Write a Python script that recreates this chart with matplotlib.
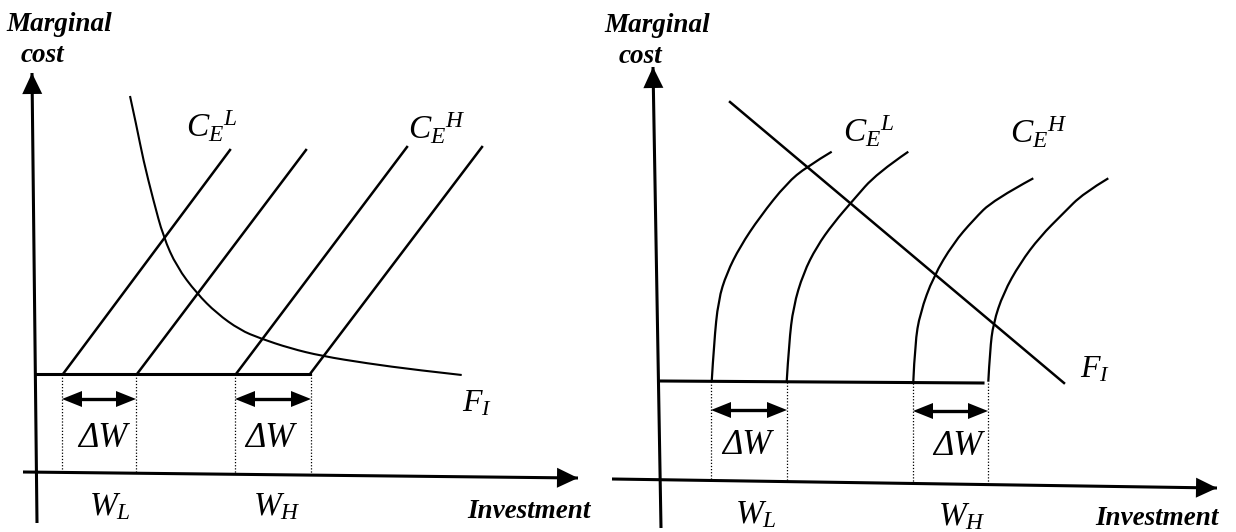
import matplotlib
matplotlib.use('Agg')
import matplotlib.pyplot as plt
from matplotlib.path import Path
from matplotlib.patches import PathPatch
import numpy as np

plt.rcParams['mathtext.fontset'] = 'custom'
plt.rcParams['mathtext.rm'] = 'Liberation Serif'
plt.rcParams['mathtext.it'] = 'Liberation Serif:italic'
plt.rcParams['mathtext.bf'] = 'Liberation Serif:bold'
SERIF = 'Liberation Serif'

FIG_W, FIG_H = 1236, 532

# ---------------- data (picture units: x right, y down) ----------------
# Left panel
L_yaxis_x = [32, 37]
L_yaxis_y = [73, 523]
L_xaxis_x = [23, 578]
L_xaxis_y = [472, 478]
L_floor_x = [37, 310]
L_floor_y = [374, 374]
L_ce_x0 = [63, 137, 236, 310]
L_ce_y0 = [374, 374, 374, 374]
L_ce_x1 = [230, 306, 407, 482]
L_ce_y1 = [150, 150, 147, 147]
L_fi_x = [130, 136.7, 143.3, 153.3, 163.3, 176.7, 196.7, 216.7, 240, 260, 290, 321.7, 366.7, 416.7, 461.7]
L_fi_y = [96, 126.7, 160, 200, 236.7, 266.7, 293.3, 313.3, 330, 338.3, 348.3, 356, 363.3, 370, 375]
L_w_x = [62, 136, 235, 311]
L_arrow_y = [399, 399]

# Right panel
R_yaxis_x = [653, 661]
R_yaxis_y = [67, 528]
R_xaxis_x = [612, 1217]
R_xaxis_y = [479, 488]
R_floor_x = [661, 983]
R_floor_y = [381, 383]
R_c1_x = [711.7, 714, 718.3, 726.7, 740, 760, 786.7, 806.7, 831.7]
R_c1_y = [381.7, 343.3, 300, 273.3, 246.7, 216.7, 183.3, 166.7, 151.7]
R_c2_x = [786.7, 789, 793.3, 803.3, 816.7, 833.3, 853.3, 876.7, 908.3]
R_c2_y = [381.7, 343.3, 306.7, 273.3, 246.7, 223.3, 200, 173.3, 151.7]
R_c3_x = [913.3, 915, 920, 933.3, 953.3, 973.3, 993.3, 1033.3]
R_c3_y = [381.7, 343.3, 313.3, 276.7, 243.3, 220, 200, 178.3]
R_c4_x = [988.3, 990, 993.3, 1003.3, 1020, 1040, 1063.3, 1083.3, 1108.3]
R_c4_y = [381.7, 350, 323.3, 293.3, 263.3, 236.7, 213.3, 193.3, 178.3]
R_fi_x = [730, 1064]
R_fi_y = [102, 383]
R_w_x = [711, 787, 913, 988]
R_arrow_y = [410, 411]

# ---------------- figure ----------------
fig = plt.figure(figsize=(FIG_W / 100, FIG_H / 100), dpi=100)
ax = fig.add_axes([0, 0, 1, 1])
ax.set_xlim(0, FIG_W)
ax.set_ylim(FIG_H, 0)
ax.axis('off')

K = 'black'


def head(tip, frm, length, half):
    tip = np.array(tip, float)
    d = tip - np.array(frm, float)
    d /= np.hypot(*d)
    n = np.array([-d[1], d[0]])
    base = tip - d * length
    pts = np.array([tip, base + n * half, base - n * half])
    ax.fill(pts[:, 0], pts[:, 1], color=K, lw=0)


def smooth_curve(xs, ys, lw):
    # read points used as quadratic Bezier control points (rendered by matplotlib Path)
    p = np.column_stack([xs, ys]).astype(float)
    verts = [p[0]]
    codes = [Path.MOVETO]
    for i in range(1, len(p) - 1):
        mid = (p[i] + p[i + 1]) / 2 if i < len(p) - 2 else p[i + 1]
        verts += [p[i], mid]
        codes += [Path.CURVE3, Path.CURVE3]
    ax.add_patch(PathPatch(Path(verts, codes), facecolor='none', edgecolor=K, lw=lw,
                           capstyle='butt'))


def axes_arrows(yx, yy, xx, xy):
    ax.plot(yx, yy, color=K, lw=2.2, solid_capstyle='butt')
    head((yx[0], yy[0]), (yx[1], yy[1]), 21, 10)
    ax.plot(xx, xy, color=K, lw=2.2, solid_capstyle='butt')
    head((xx[1], xy[1]), (xx[0], xy[0]), 21, 10)


def dbl_arrow(x0, x1, y):
    ax.plot([x0 + 12, x1 - 12], [y, y], color=K, lw=2.4)
    head((x0, y), (x1, y), 20, 8)
    head((x1, y), (x0, y), 20, 8)


def yat(xs, ys, x):
    return ys[0] + (ys[1] - ys[0]) * (x - xs[0]) / (xs[1] - xs[0])


# ----- left panel -----
axes_arrows(L_yaxis_x, L_yaxis_y, L_xaxis_x, L_xaxis_y)
ax.plot(L_floor_x, L_floor_y, color=K, lw=2.2)
for x0, y0, x1, y1 in zip(L_ce_x0, L_ce_y0, L_ce_x1, L_ce_y1):
    ax.plot([x0, x1], [y0, y1], color=K, lw=1.8)
smooth_curve(L_fi_x, L_fi_y, 1.5)
for x in L_w_x:
    ax.plot([x, x], [L_floor_y[0], yat(L_xaxis_x, L_xaxis_y, x)], color=K, lw=0.9,
            linestyle=(0, (1, 1.5)))
dbl_arrow(L_w_x[0], L_w_x[1], L_arrow_y[0])
dbl_arrow(L_w_x[2], L_w_x[3], L_arrow_y[1])

# ----- right panel -----
axes_arrows(R_yaxis_x, R_yaxis_y, R_xaxis_x, R_xaxis_y)
ax.plot(R_floor_x, R_floor_y, color=K, lw=2.2)
for cx, cy in [(R_c1_x, R_c1_y), (R_c2_x, R_c2_y), (R_c3_x, R_c3_y), (R_c4_x, R_c4_y)]:
    smooth_curve(cx, cy, 1.6)
ax.plot(R_fi_x, R_fi_y, color=K, lw=1.8)
for x in R_w_x:
    ax.plot([x, x], [yat(R_floor_x, R_floor_y, x), yat(R_xaxis_x, R_xaxis_y, x)], color=K,
            lw=0.9, linestyle=(0, (1, 1.5)))
dbl_arrow(R_w_x[0], R_w_x[1], R_arrow_y[0])
dbl_arrow(R_w_x[2], R_w_x[3], R_arrow_y[1])

# ----- text -----
bi = dict(family=SERIF, weight='bold', style='italic', va='baseline', color=K)
for x0, y0, y1 in [(6, 31, 62), (604, 32, 63)]:
    ax.text(x0, y0, 'Marginal', fontsize=19.5, ha='left', **bi)
    ax.text(x0 + 15, y1, 'cost', fontsize=19.5, ha='left', **bi)
ax.text(467, 518, 'Investment', fontsize=19.5, ha='left', **bi)
ax.text(1095, 525, 'Investment', fontsize=19.5, ha='left', **bi)

mt = dict(va='baseline', ha='left', color=K)
ax.text(186, 137, r'${C_E}^{L}$', fontsize=24, **mt)
ax.text(408, 139, r'${C_E}^{H}$', fontsize=24, **mt)
ax.text(843, 142, r'${C_E}^{L}$', fontsize=24, **mt)
ax.text(1010, 143, r'${C_E}^{H}$', fontsize=24, **mt)
ax.text(462, 412, r'$F_I$', fontsize=23, **mt)
ax.text(1080, 377, r'$F_I$', fontsize=23, **mt)

dw = dict(family=SERIF, style='italic', va='baseline', ha='center', color=K, fontsize=25)
ax.text(103, 447, 'ΔW', **dw)
ax.text(270, 447, 'ΔW', **dw)
ax.text(747, 454, 'ΔW', **dw)
ax.text(958, 455, 'ΔW', **dw)

wt = dict(va='baseline', ha='center', color=K, fontsize=24)
ax.text(110, 515, r'$W_L$', **wt)
ax.text(277, 515, r'$W_H$', **wt)
ax.text(756, 523, r'$W_L$', **wt)
ax.text(962, 525, r'$W_H$', **wt)

fig.savefig('out.png', dpi=100)
